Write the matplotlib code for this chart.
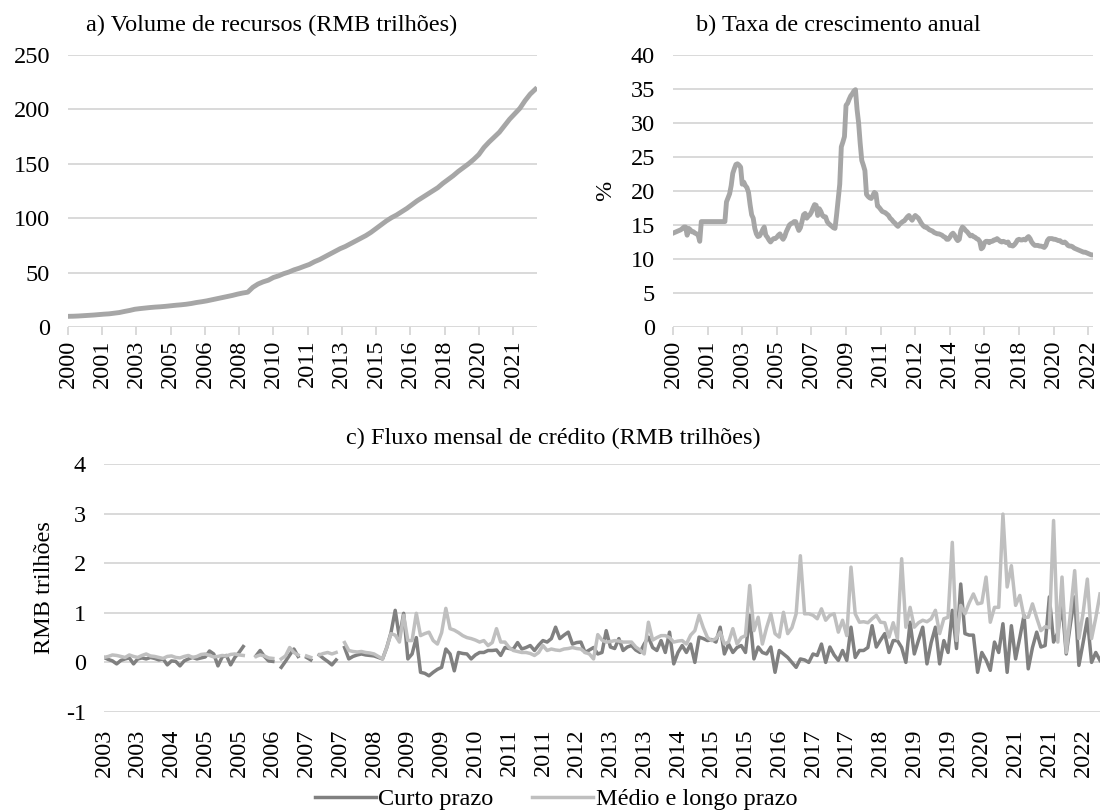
import numpy as np
import pandas as pd
import matplotlib
matplotlib.use('Agg')
import matplotlib.pyplot as plt

plt.rcParams['font.family'] = ['Liberation Serif', 'DejaVu Serif']
plt.rcParams['font.size'] = 17.5
plt.rcParams['axes.unicode_minus'] = False

# a) volume de recursos, RMB trilhoes - trimestral a partir de jan/2000
volume = [9.8, 9.9, 10.1, 10.4, 10.7, 11.0, 11.4, 11.8, 12.1, 12.7, 13.3, 14.3,
          15.2, 16.3, 16.9, 17.4, 17.9, 18.3, 18.6, 19.0, 19.5, 20.0, 20.4, 20.9,
          21.6, 22.5, 23.2, 24.0, 25.0, 26.0, 27.0, 28.0, 29.0, 30.2, 31.2, 32.0,
          36.5, 39.5, 41.5, 43.0, 45.5, 47.0, 49.0, 50.5, 52.5, 54.0, 55.8, 57.5,
          60.0, 62.0, 64.5, 67.0, 69.5, 72.0, 74.0, 76.5, 79.0, 81.5, 84.0, 87.0,
          90.5, 94.0, 97.5, 100.5, 103.0, 106.0, 109.0, 112.5, 116.0, 119.0, 122.0, 125.0,
          128.0, 132.0, 135.5, 139.0, 143.0, 146.5, 150.0, 154.0, 158.5, 165.0, 170.0, 174.5,
          179.0, 185.0, 191.0, 196.0, 201.0, 208.0, 214.0, 218.5]
volume_meses = 275

# b) taxa de crescimento anual, % - mensal a partir de jan/2000
crescimento = [
    13.8, 13.9, 14.0, 14.1, 14.2, 14.3, 14.5, 14.7, 14.7, 13.5, 14.5, 14.3,
    14.0, 14.0, 13.8, 13.7, 13.5, 12.6, 15.5, 15.5, 15.5, 15.5, 15.5, 15.5,
    15.5, 15.5, 15.5, 15.5, 15.5, 15.5, 15.5, 15.5, 15.5, 15.5, 18.4, 19.0,
    19.6, 20.8, 22.6, 23.3, 23.9, 24.0, 23.8, 23.5, 21.0, 21.3, 20.8, 20.5,
    19.8, 18.0, 16.5, 16.0, 14.5, 13.7, 13.3, 13.4, 13.8, 14.3, 14.7, 13.5,
    13.2, 12.8, 12.5, 12.8, 13.0, 13.0, 13.2, 13.5, 13.7, 13.2, 12.9, 13.3,
    14.0, 14.5, 15.0, 15.2, 15.3, 15.5, 15.5, 14.8, 14.2, 14.6, 15.5, 16.5,
    16.7, 16.0, 16.3, 16.5, 16.9, 17.5, 18.0, 17.9, 16.4, 17.4, 17.0, 16.4,
    16.2, 16.2, 15.5, 15.2, 15.0, 14.8, 14.6, 14.5, 16.5, 18.8, 21.0, 26.5,
    27.2, 28.0, 32.6, 32.9, 33.5, 34.0, 34.3, 34.7, 34.9, 32.0, 30.0, 27.0,
    24.5, 23.8, 23.0, 19.5, 19.2, 19.0, 18.9, 19.3, 19.8, 19.6, 17.8, 17.6,
    17.3, 17.0, 16.9, 16.8, 16.6, 16.4, 16.0, 15.8, 15.5, 15.3, 15.0, 14.8,
    15.1, 15.3, 15.5, 15.6, 15.9, 16.2, 16.4, 16.0, 15.7, 16.1, 16.4, 16.2,
    16.0, 15.6, 15.2, 14.9, 14.7, 14.7, 14.5, 14.3, 14.2, 14.1, 13.9, 13.8,
    13.7, 13.7, 13.6, 13.5, 13.3, 13.2, 12.9, 12.9, 13.2, 13.6, 13.8, 13.5,
    13.0, 12.7, 12.9, 14.2, 14.7, 14.5, 14.2, 14.0, 13.7, 13.4, 13.5, 13.3,
    13.2, 13.0, 12.9, 12.6, 11.5, 11.7, 12.4, 12.6, 12.6, 12.4, 12.6, 12.6,
    12.8, 12.8, 13.0, 12.8, 12.6, 12.5, 12.6, 12.5, 12.4, 12.5, 12.0, 12.0,
    11.9, 12.1, 12.4, 12.8, 12.9, 12.8, 12.8, 12.9, 12.8, 13.1, 13.3, 13.0,
    12.5, 12.2, 12.0, 12.0, 12.0, 11.9, 11.9, 11.8, 11.7, 12.0, 12.7, 13.0,
    13.0, 13.0, 12.9, 12.9, 12.8, 12.7, 12.7, 12.5, 12.4, 12.5, 12.3, 12.0,
    11.9, 11.9, 11.8, 11.6, 11.5, 11.4, 11.3, 11.2, 11.1, 11.0, 11.0, 10.9,
    10.8, 10.7, 10.6, 10.6]

# c) fluxo mensal de credito, RMB trilhoes - mensal a partir de abr/2003
nan = np.nan
curto = [
    0.10, 0.06, 0.03, -0.03, 0.04, 0.07, 0.09, -0.03, 0.07, 0.09, 0.07, 0.10,
    0.08, 0.05, 0.07, -0.05, 0.03, 0.02, -0.07, 0.03, 0.07, 0.10, 0.07, 0.09,
    0.11, 0.23, 0.17, -0.07, 0.11, 0.14, -0.05, 0.10, 0.20, 0.32, nan, nan,
    0.13, 0.24, 0.12, 0.03, 0.02, nan, -0.10, 0.02, 0.15, 0.27, 0.12, nan,
    0.10, 0.05, nan, 0.15, 0.08, 0.02, -0.05, 0.05, nan, 0.30, 0.07, 0.12,
    0.15, 0.17, 0.15, 0.14, 0.13, 0.10, 0.07, 0.30, 0.60, 1.05, 0.50, 0.99,
    0.07, 0.17, 0.50, -0.20, -0.22, -0.27, -0.20, -0.14, -0.10, 0.27, 0.17, -0.17,
    0.20, 0.18, 0.17, 0.07, 0.15, 0.20, 0.20, 0.24, 0.24, 0.25, 0.14, 0.30,
    0.28, 0.27, 0.40, 0.27, 0.30, 0.34, 0.24, 0.35, 0.44, 0.41, 0.48, 0.71,
    0.48, 0.55, 0.61, 0.37, 0.40, 0.41, 0.20, 0.25, 0.30, 0.17, 0.20, 0.64,
    0.31, 0.28, 0.48, 0.24, 0.31, 0.34, 0.25, 0.20, 0.37, 0.51, 0.30, 0.24,
    0.44, 0.20, 0.61, -0.03, 0.20, 0.34, 0.20, 0.37, 0.00, 0.51, 0.48, 0.44,
    0.46, 0.41, 0.71, 0.17, 0.37, 0.20, 0.30, 0.34, 0.20, 0.95, 0.07, 0.31,
    0.20, 0.17, 0.31, -0.20, 0.24, 0.17, 0.10, 0.00, -0.10, 0.07, 0.05, 0.00,
    0.17, 0.14, 0.37, 0.00, 0.31, 0.15, 0.04, 0.24, 0.04, 0.71, 0.10, 0.24,
    0.24, 0.30, 0.74, 0.31, 0.45, 0.58, 0.20, 0.44, 0.44, 0.30, 0.00, 0.81,
    0.17, 0.45, 0.71, -0.03, 0.40, 0.71, -0.03, 0.44, 0.20, 1.05, 0.28, 1.58,
    0.58, 0.55, 0.55, -0.20, 0.20, 0.05, -0.16, 0.41, 0.20, 0.78, -0.20, 0.74,
    0.07, 0.50, 0.95, -0.13, 0.30, 0.61, 0.31, 0.34, 1.32, 0.41, 0.60, 1.18,
    0.17, 0.78, 1.32, -0.06, 0.40, 0.88, 0.00, 0.20, 0.04]
medio_longo = [
    0.10, 0.12, 0.15, 0.14, 0.12, 0.10, 0.15, 0.12, 0.10, 0.14, 0.17, 0.13,
    0.12, 0.10, 0.08, 0.12, 0.13, 0.10, 0.09, 0.12, 0.14, 0.10, 0.12, 0.16,
    0.17, 0.14, 0.11, 0.12, 0.14, 0.13, 0.16, 0.17, 0.15, 0.14, nan, nan,
    0.12, 0.15, 0.13, 0.09, 0.08, nan, 0.07, 0.13, 0.30, 0.20, 0.15, nan,
    0.13, 0.10, nan, 0.15, 0.18, 0.20, 0.17, 0.20, nan, 0.40, 0.24, 0.22,
    0.21, 0.22, 0.20, 0.19, 0.17, 0.12, 0.07, 0.30, 0.58, 0.55, 0.41, 0.95,
    0.44, 0.44, 0.99, 0.54, 0.58, 0.61, 0.44, 0.37, 0.60, 1.09, 0.68, 0.65,
    0.60, 0.54, 0.50, 0.48, 0.45, 0.41, 0.44, 0.34, 0.40, 0.68, 0.41, 0.41,
    0.30, 0.24, 0.22, 0.20, 0.20, 0.18, 0.14, 0.20, 0.34, 0.24, 0.27, 0.25,
    0.24, 0.27, 0.28, 0.30, 0.28, 0.27, 0.20, 0.17, 0.07, 0.56, 0.45, 0.41,
    0.42, 0.44, 0.43, 0.41, 0.41, 0.41, 0.31, 0.25, 0.17, 0.81, 0.45, 0.50,
    0.54, 0.54, 0.50, 0.41, 0.43, 0.44, 0.37, 0.55, 0.64, 0.95, 0.70, 0.50,
    0.44, 0.48, 0.61, 0.37, 0.41, 0.68, 0.37, 0.50, 0.54, 1.55, 0.64, 0.91,
    0.37, 0.70, 0.98, 0.58, 0.51, 1.01, 0.58, 0.70, 0.98, 2.15, 0.98, 0.98,
    0.95, 0.88, 1.08, 0.85, 0.95, 0.98, 0.61, 0.85, 0.54, 1.92, 0.98, 0.81,
    0.82, 0.80, 0.88, 0.95, 0.81, 0.80, 0.51, 0.80, 0.48, 2.09, 0.71, 1.11,
    0.71, 0.80, 0.85, 0.82, 0.88, 1.05, 0.58, 0.88, 0.91, 2.42, 0.44, 1.15,
    0.98, 1.20, 1.38, 1.18, 1.20, 1.72, 0.81, 1.11, 1.11, 2.99, 1.52, 1.95,
    1.15, 1.35, 0.91, 0.91, 1.18, 0.90, 0.64, 0.72, 0.70, 2.86, 0.41, 1.72,
    0.20, 1.00, 1.85, 0.48, 1.00, 1.68, 0.48, 0.90, 1.38]

GRID = '#d9d9d9'
LINHA = '#a6a6a6'
ESCURO = '#808080'
CLARO = '#bfbfbf'


def eixo_x(ax, meses, inicio, passo):
    # eixo de categorias estilo Excel: um rotulo de ano a cada `passo` meses
    datas = pd.date_range(inicio, periods=meses, freq='MS')
    pos = np.arange(0, meses, passo)
    ax.set_xticks(pos)
    ax.set_xticklabels([str(datas[p].year) for p in pos], rotation=90)
    ax.set_xlim(0, meses - 1)


def estilo(ax):
    for s in ax.spines.values():
        s.set_visible(False)
    ax.grid(axis='y', color=GRID, lw=1.4)
    ax.set_axisbelow(True)
    ax.tick_params(axis='y', length=0, pad=13)


fig = plt.figure(figsize=(11, 8.1), dpi=100)

# a)
ax1 = fig.add_axes([68 / 1100, 1 - 327 / 810, 469 / 1100, 272 / 810])
estilo(ax1)
ax1.plot(np.arange(len(volume)) * 3, volume, color=LINHA, lw=3.5)
eixo_x(ax1, volume_meses, '2000-01', 20)
ax1.set_ylim(0, 250)
ax1.set_yticks(range(0, 251, 50))
ax1.tick_params(axis='x', length=6, width=1.4, color=GRID, pad=3)
fig.text(272 / 1100, 1 - 25 / 810, 'a) Volume de recursos (RMB trilhões)',
         ha='center', va='center')

# b)
ax2 = fig.add_axes([673 / 1100, 1 - 327 / 810, 420 / 1100, 272 / 810])
estilo(ax2)
ax2.plot(np.arange(len(crescimento)), crescimento, color=LINHA, lw=3.5)
eixo_x(ax2, len(crescimento), '2000-01', 22)
ax2.set_ylim(0, 40)
ax2.set_yticks(range(0, 41, 5))
ax2.tick_params(axis='x', length=6, width=1.4, color=GRID, pad=3)
ax2.set_ylabel('%', labelpad=10)
fig.text(838 / 1100, 1 - 25 / 810, 'b) Taxa de crescimento anual',
         ha='center', va='center')

# c)
ax3 = fig.add_axes([104 / 1100, 1 - 712 / 810, 996 / 1100, 248 / 810])
estilo(ax3)
x3 = np.arange(len(curto))
ax3.plot(x3, curto, color=ESCURO, lw=2.5, label='Curto prazo')
ax3.plot(x3, medio_longo, color=CLARO, lw=2.5, label='Médio e longo prazo')
eixo_x(ax3, len(curto), '2003-04', 8)
ax3.set_ylim(-1, 4)
ax3.set_yticks(range(-1, 5))
ax3.tick_params(axis='x', length=0, pad=12)
ax3.set_ylabel('RMB trilhões', labelpad=8)
fig.text(553 / 1100, 1 - 438 / 810, 'c) Fluxo mensal de crédito (RMB trilhões)',
         ha='center', va='center')

fig.legend(*ax3.get_legend_handles_labels(), loc='center', ncol=2,
           bbox_to_anchor=(556 / 1100, 1 - 799 / 810), frameon=False,
           handlelength=2.5, handletextpad=0.1, columnspacing=1.6,
           borderaxespad=0)

fig.savefig('out.png', dpi=100)
